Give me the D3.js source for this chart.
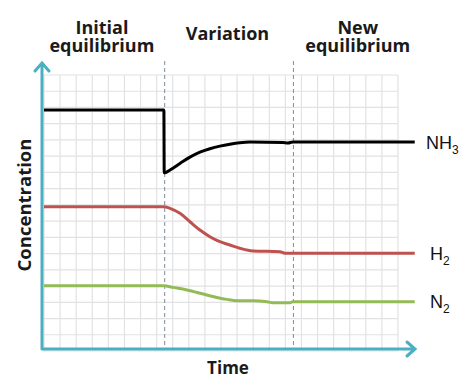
<!DOCTYPE html>
<html>
<head>
<meta charset="utf-8">
<script src="https://cdn.jsdelivr.net/npm/d3@7"></script>
<style>
  body { margin: 0; background: #fff; }
  svg { display: block; }
</style>
</head>
<body>
<div></div>
<script>
// chart size
const width = 474, height = 389;

// data: time and concentration in grid units
const nh3Time = [0, 7.45, 7.47, 7.52, 7.83, 8.45, 9.07, 9.69, 10.31, 10.93, 11.55, 12.17, 12.8, 14.84, 15.16, 15.47, 23.04];
const nh3Conc = [14.84, 14.84, 10.98, 10.98, 11.15, 11.55, 11.94, 12.25, 12.46, 12.62, 12.74, 12.83, 12.87, 12.85, 12.81, 12.87, 12.87];

const h2Time = [0, 7.47, 7.83, 8.45, 9.07, 9.69, 10.31, 10.93, 11.55, 12.17, 12.98, 14.66, 14.97, 15.47, 23.04];
const h2Conc = [8.89, 8.89, 8.79, 8.48, 7.96, 7.45, 7.04, 6.73, 6.53, 6.33, 6.16, 6.12, 6.02, 6.02, 6.02];

const n2Time = [0, 7.45, 8.01, 8.88, 10.12, 11.37, 11.99, 12.98, 13.85, 14.22, 15.28, 15.47, 23.04];
const n2Conc = [4.02, 4.02, 3.92, 3.76, 3.45, 3.18, 3.1, 3.1, 3.04, 2.97, 2.97, 3.04, 3.04];

const phaseBreaks = [7.5, 15.5];
const phaseTitles = [["Initial", "equilibrium"], ["Variation"], ["New", "equilibrium"]];
const phaseCenters = [3.6, 11.4, 19.5];

const svg = d3.select("body div")
    .append("svg")
    .attr("width", width)
    .attr("height", height);

// scales
const x = d3.scaleLinear().domain([0, 22]).range([44, 398]);
const y = d3.scaleLinear().domain([0, 17]).range([351, 75]);

const titleFont = "'Open Sans', sans-serif";

// grid
const grid = svg.append("g");
grid.selectAll("line.v")
    .data(d3.range(0, 23))
    .join("line")
    .attr("x1", d => x(d)).attr("x2", d => x(d))
    .attr("y1", y(17)).attr("y2", y(0))
    .attr("stroke", "#e2e2e4")
    .attr("stroke-width", 1.2);
grid.selectAll("line.h")
    .data(d3.range(0, 18))
    .join("line")
    .attr("x1", x(0)).attr("x2", x(22))
    .attr("y1", d => y(d)).attr("y2", d => y(d))
    .attr("stroke", "#e2e2e4")
    .attr("stroke-width", 1.2);

// dashed phase separators
svg.selectAll("line.sep")
    .data(phaseBreaks)
    .join("line")
    .attr("x1", d => x(d)).attr("x2", d => x(d))
    .attr("y1", 61).attr("y2", 349)
    .attr("stroke", "#7d8c9c")
    .attr("stroke-width", 1)
    .attr("stroke-dasharray", "4,3");

// phase titles
phaseTitles.forEach(function (lines, i) {
    const t = svg.append("text")
        .attr("text-anchor", "middle")
        .attr("font-family", titleFont)
        .attr("font-weight", "bold")
        .attr("font-size", "18px")
        .attr("fill", "#1a1a1a");
    lines.forEach(function (s, j) {
        t.append("tspan")
            .attr("x", x(phaseCenters[i]))
            .attr("y", lines.length == 1 ? 40 : 33.5 + j * 18)
            .text(s);
    });
});

// curves
const line = d3.line()
    .x(d => x(d[0]))
    .y(d => y(d[1]))
    .curve(d3.curveMonotoneX);

const series = [
    { name: "NH", sub: "3", time: nh3Time, conc: nh3Conc, color: "#000000" },
    { name: "H", sub: "2", time: h2Time, conc: h2Conc, color: "#be524f" },
    { name: "N", sub: "2", time: n2Time, conc: n2Conc, color: "#93bb55" }
];

series.forEach(function (s) {
    svg.append("path")
        .datum(d3.zip(s.time, s.conc))
        .attr("fill", "none")
        .attr("stroke", s.color)
        .attr("stroke-width", 3)
        .attr("d", line);

    const last = s.conc[s.conc.length - 1];
    const lbl = svg.append("text")
        .attr("x", s.name == "NH" ? 426 : 430)
        .attr("y", y(last) + 6.5)
        .attr("font-family", "Liberation Sans, Arial, sans-serif")
        .attr("font-size", "18px")
        .attr("fill", "#111")
        .text(s.name);
    lbl.append("tspan")
        .attr("dy", 5)
        .attr("font-size", "12px")
        .text(s.sub);
});

// axes
const axisColor = "#4aafc1";
svg.append("path")
    .attr("d", "M42,63 V349 H415")
    .attr("fill", "none")
    .attr("stroke", axisColor)
    .attr("stroke-width", 3)
    .attr("stroke-linejoin", "round");
svg.append("path")
    .attr("d", "M35,71 L42,63 L49,71")
    .attr("fill", "none")
    .attr("stroke", axisColor)
    .attr("stroke-width", 3)
    .attr("stroke-linecap", "round");
svg.append("path")
    .attr("d", "M407,342 L415,349 L407,356")
    .attr("fill", "none")
    .attr("stroke", axisColor)
    .attr("stroke-width", 3)
    .attr("stroke-linecap", "round");

// axis titles
svg.append("text")
    .attr("x", 228)
    .attr("y", 374)
    .attr("text-anchor", "middle")
    .attr("font-family", titleFont)
    .attr("font-weight", "bold")
    .attr("font-size", "17px")
    .attr("fill", "#1a1a1a")
    .text("Time");

svg.append("text")
    .attr("transform", "translate(31,205) rotate(-90)")
    .attr("text-anchor", "middle")
    .attr("font-family", titleFont)
    .attr("font-weight", "bold")
    .attr("font-size", "18.5px")
    .attr("fill", "#1a1a1a")
    .text("Concentration");
</script>
</body>
</html>
